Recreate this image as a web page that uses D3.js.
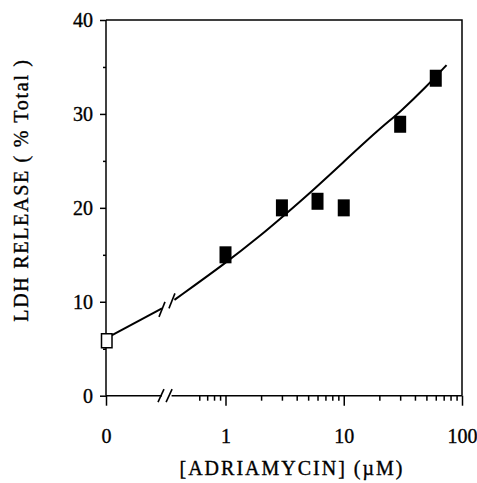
<!DOCTYPE html>
<html>
<head>
<meta charset="utf-8">
<script src="https://cdn.jsdelivr.net/npm/d3@7"></script>
<style>
  html, body { margin: 0; padding: 0; background: #fff; }
  svg { display: block; }
  text { font-family: "Liberation Serif", "Times New Roman", serif; fill: #000; stroke: #000; stroke-width: 0.35px; }
</style>
</head>
<body>
<svg id="chart" width="477" height="483"></svg>
<script>
// LDH release vs. adriamycin concentration (log axis with a break for the 0 control)
const treatedConc = [1, 3, 6, 10, 30, 60];
const treatedRelease = [15.0, 20.0, 20.7, 20.0, 28.9, 33.8];
const controlConc = [0];
const controlRelease = [5.85];

// fitted curve, before and after the axis break
const fitLowConc = [0, 0.25];
const fitLowRelease = [6.1, 9.3];
const fitConc = [0.37, 1, 2, 3, 5, 10, 20, 30, 50, 74];
const fitRelease = [10.2, 14.1, 17.1, 19.0, 21.4, 24.9, 28.4, 30.2, 32.9, 35.2];

const yTicks = [0, 10, 20, 30, 40];
const yMinorTicks = [5, 15, 25, 35];
const xTicks = [1, 10, 100];
const xTickLabels = ["1", "10", "100"];
const xZeroLabel = "0";
const xMinorTicks = [0.6, 0.7, 0.8, 0.9, 2, 3, 4, 5, 6, 7, 8, 9, 20, 30, 40, 50, 60, 70, 80, 90];

const svg = d3.select("#chart");
const plotLeft = 106, plotRight = 462, plotTop = 20, plotBottom = 395.7;

const y = d3.scaleLinear().domain([0, 40]).range([plotBottom, plotTop]);
const xLow = d3.scaleLinear().domain([0, 0.25]).range([plotLeft, 162]);
const xLog = d3.scaleLog().domain([1, 100]).range([225.5, plotRight]);
const logStart = 0.35;

const ink = "#000";

// frame: top and right borders
svg.append("path")
  .attr("d", `M${plotLeft},${plotTop}H${plotRight}V${plotBottom}`)
  .attr("fill", "none").attr("stroke", ink).attr("stroke-width", 1.5);

// y axis
const yAxis = svg.append("g").attr("transform", `translate(${plotLeft},0)`);
yAxis.call(d3.axisLeft(y).tickValues(yTicks).tickSize(6).tickPadding(7).tickFormat(d3.format("d")));
yAxis.append("g").call(d3.axisLeft(y).tickValues(yMinorTicks).tickSize(3).tickFormat(""));
yAxis.selectAll(".domain").remove();
yAxis.append("line").attr("x1", 0).attr("x2", 0).attr("y1", plotTop).attr("y2", plotBottom)
  .attr("stroke", ink).attr("stroke-width", 1.5);
yAxis.selectAll("line").attr("stroke", ink).attr("stroke-width", 1.5);
yAxis.selectAll("text").style("font-size", "20px").attr("dy", "0.33em");

// x axis: low (zero) section and log section
const xAxis = svg.append("g").attr("transform", `translate(0,${plotBottom})`);
xAxis.append("line").attr("x1", xLow(0)).attr("x2", xLow(0.25)).attr("y1", 0).attr("y2", 0)
  .attr("stroke", ink).attr("stroke-width", 1.5);
xAxis.append("line").attr("x1", xLog(logStart)).attr("x2", xLog(100)).attr("y1", 0).attr("y2", 0)
  .attr("stroke", ink).attr("stroke-width", 1.5);

const xMajor = xAxis.append("g");
xMajor.call(d3.axisBottom(xLog).tickValues(xTicks).tickSize(10).tickPadding(23)
  .tickFormat((d, i) => xTickLabels[i]));
const xMinor = xAxis.append("g");
xMinor.call(d3.axisBottom(xLog).tickValues(xMinorTicks).tickSize(5).tickFormat(""));
const xZero = xAxis.append("g");
xZero.call(d3.axisBottom(xLow).tickValues([0]).tickSize(10).tickPadding(23).tickFormat(() => xZeroLabel));
xAxis.selectAll(".domain").remove();
xAxis.selectAll(".tick line").attr("stroke", ink).attr("stroke-width", 1.5);
xAxis.selectAll("text").style("font-size", "20px");

// break marks on the x axis
const breakMark = (cx, cy, dx, dy) =>
  `M${cx - dx},${cy + dy}L${cx + dx},${cy - dy}`;
[xLow(0.25) - 1, xLog(logStart) - 2.5].forEach(cx => {
  svg.append("path").attr("d", breakMark(cx, plotBottom, 3, 6.5))
    .attr("stroke", ink).attr("stroke-width", 1.6).attr("fill", "none");
});

// fitted curve (smoothed through the sampled points)
const lineLow = d3.line().x(d => xLow(d[0])).y(d => y(d[1]));
const lineLog = d3.line().x(d => xLog(d[0])).y(d => y(d[1])).curve(d3.curveBasis);
svg.append("path").datum(d3.zip(fitLowConc, fitLowRelease)).attr("d", lineLow)
  .attr("fill", "none").attr("stroke", ink).attr("stroke-width", 2);
svg.append("path").datum(d3.zip(fitConc, fitRelease)).attr("d", lineLog)
  .attr("fill", "none").attr("stroke", ink).attr("stroke-width", 2);

// break marks on the curve
[[xLow(0.25), fitLowRelease[1]], [xLog(fitConc[0]) - 2.5, fitRelease[0]]].forEach(([cx, v]) => {
  svg.append("path").attr("d", breakMark(cx, y(v) + 1, 3, 7.5))
    .attr("stroke", ink).attr("stroke-width", 1.6).attr("fill", "none");
});

// markers
const mw = 12, mh = 17;
svg.append("g").selectAll("rect").data(d3.zip(treatedConc, treatedRelease)).join("rect")
  .attr("x", d => xLog(d[0]) - mw / 2).attr("y", d => y(d[1]) - mh / 2)
  .attr("width", mw).attr("height", mh).attr("fill", ink);
svg.append("g").selectAll("rect").data(d3.zip(controlConc, controlRelease)).join("rect")
  .attr("x", d => xLow(d[0]) - 4.5).attr("y", d => y(d[1]) - 7)
  .attr("width", 10.5).attr("height", 14)
  .attr("fill", "#fff").attr("stroke", ink).attr("stroke-width", 1.5);

// axis titles
svg.append("text").attr("x", 292).attr("y", 475).attr("text-anchor", "middle")
  .style("font-size", "20px").style("letter-spacing", "2px")
  .text("[ADRIAMYCIN] (\u00b5M)");
svg.append("text").attr("transform", "translate(28,190) rotate(-90)").attr("text-anchor", "middle")
  .style("font-size", "20px").style("letter-spacing", "1.7px")
  .text("LDH RELEASE ( % Total )");
</script>
</body>
</html>
